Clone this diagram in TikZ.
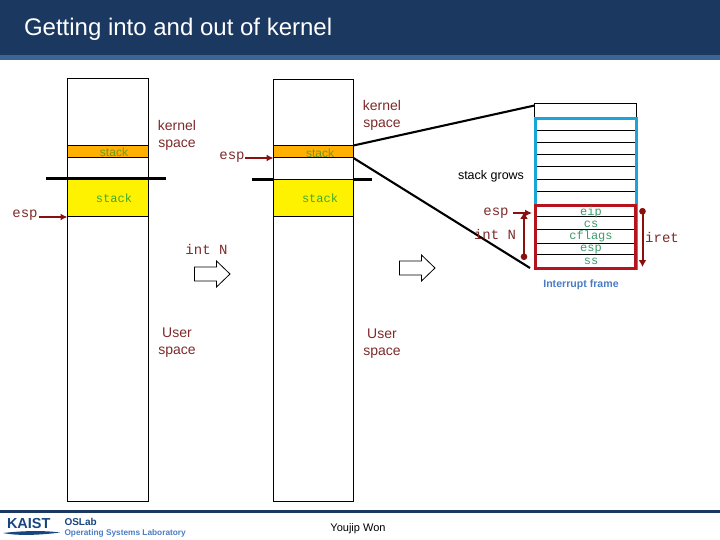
\documentclass[tikz,border=0pt]{standalone}
\usepackage{fontspec}
\setmainfont{Liberation Sans}
\newfontfamily\monof{Liberation Mono}
\usetikzlibrary{arrows.meta}
\definecolor{hdr}{HTML}{1A3860}
\definecolor{hdrb}{HTML}{3E6496}
\definecolor{dred}{HTML}{8A1010}
\definecolor{txtred}{HTML}{7E2A2A}
\definecolor{tgreen}{HTML}{3E9A6A}
\definecolor{sgreen}{HTML}{3FAA30}
\definecolor{ogreen}{HTML}{6E9A20}
\definecolor{orng}{HTML}{FFB000}
\definecolor{cyanb}{HTML}{1AA5D8}
\definecolor{redb}{HTML}{B5141E}
\definecolor{fblue}{HTML}{4A7CC4}
\definecolor{logob}{HTML}{17457F}
\tikzset{
 x=1pt,y=-1pt,
 every node/.style={inner sep=0pt,outer sep=0pt},
 box/.style={draw=black,line width=1pt},
 thin line/.style={draw=black,line width=1pt},
 thick line/.style={draw=black,line width=2.1pt},
 redarrow/.style={draw=dred,line width=2pt,-{Latex[length=7pt,width=7pt]}},
 redboth/.style={draw=dred,line width=2pt,{Latex[length=7pt,width=8pt]}-{Circle[length=6.5pt,width=6.5pt]}},
 sanslab/.style={font=\fontsize{14}{17}\selectfont,text=txtred,align=center},
 monolab/.style={font=\monof\fontsize{14}{16}\selectfont,text=txtred},
 stacktxt/.style={font=\monof\fontsize{12}{14}\selectfont,text=sgreen},
 orangetxt/.style={font=\fontsize{12}{14}\selectfont,text=ogreen},
 frametxt/.style={font=\monof\fontsize{12}{14}\selectfont,text=tgreen},
}
\begin{document}
\begin{tikzpicture}
\useasboundingbox (0,0) rectangle (720,540);
% header
\fill[hdr] (0,0) rectangle (720,55);
\fill[hdrb] (0,55) rectangle (720,60);
\node[anchor=west,text=white,font=\fontsize{24}{28}\selectfont] (title) at (24,29) {Getting into and out of kernel};
% footer
\fill[hdr] (0,510) rectangle (720,513);
\node[anchor=west,text=logob,font=\bfseries\fontsize{14.5}{16}\selectfont] (kaist) at (7,523.5) {KAIST};
\fill[logob] (3,533) .. controls (25,530.5) and (45,530.5) .. (60,532.5) .. controls (45,534.5) and (20,536.5) .. (3,533) -- cycle;
\node[anchor=west,text=logob,font=\bfseries\fontsize{10}{11}\selectfont] (oslab) at (64.5,522) {OSLab};
\node[anchor=west,text=fblue,font=\bfseries\fontsize{8.3}{9}\selectfont] (osl) at (64.5,533) {Operating Systems Laboratory};
\node[font=\fontsize{11}{13}\selectfont] (author) at (358,529) {Youjip Won};
% left column
\fill[orng] (67.5,145.5) rectangle (148,158);
\fill[yellow] (67.5,179) rectangle (148,217);
\draw[box] (67.5,78.5) rectangle (148,501);
\draw[box] (67.5,145.5) -- (148,145.5) (67.5,158) -- (148,158) (67.5,217) -- (148,217);
\draw[thick line] (46,178.5) -- (166,178.5);
\coordinate (lefttop) at (67.5,217);
\node[monolab,anchor=center] (esp1) at (25,215.5) {esp};
\draw[redarrow] (esp1.east) ++(1,1.5) -- (lefttop);
\node[orangetxt] (st1) at (114,152.5) {stack};
\node[stacktxt] (st2) at (114,198) {stack};
\node[sanslab] (ks1) at (177,135) {kernel\\space};
% middle column
\fill[orng] (273.5,145.5) rectangle (353.5,158);
\fill[yellow] (273.5,180) rectangle (353.5,217);
\draw[box] (273.5,79.5) rectangle (353.5,501);
\draw[box] (273.5,145.5) -- (353.5,145.5) (273.5,158) -- (353.5,158) (273.5,180) -- (353.5,180) (273.5,217) -- (353.5,217);
\draw[thick line] (252,179.5) -- (273.5,179.5) (353.5,179.5) -- (372,179.5);
\coordinate (midesp) at (273.5,158);
\node[monolab] (esp2) at (232,157.5) {esp};
\draw[redarrow] (esp2.east) ++(0,0.5) -- (midesp);
\node[orangetxt] (st3) at (320,153.5) {stack};
\node[stacktxt] (st4) at (320,198) {stack};
\node[sanslab] (ks2) at (382,115.5) {kernel\\space};
% zoom lines
\coordinate (zt0) at (353.5,145.5); \coordinate (zt1) at (534.5,105.5);
\coordinate (zb0) at (353.5,158); \coordinate (zb1) at (530,268);
\draw[thick line] (zt0) -- (zt1);
\draw[thick line] (zb0) -- (zb1);
% stack detail
\draw[box] (534.5,103.5) rectangle (636,119);
\foreach \y in {131,143,155,167,180,192,217,230,243,254}
  \draw[thin line] (534.5,\y) -- (635,\y);
\draw[draw=cyanb,line width=3pt] (535,119) rectangle (636,268);
\draw[draw=redb,line width=3pt] (535.5,205.5) rectangle (635,268);
\node[frametxt] (f1) at (591,212) {eip};
\node[frametxt] (f2) at (591,224.5) {cs};
\node[frametxt] (f3) at (591,236.5) {cflags};
\node[frametxt] (f4) at (591,249.5) {esp};
\node[frametxt] (f5) at (591,261) {ss};
\node[font=\fontsize{12.5}{14}\selectfont,text=black] (grows) at (491,176) {stack grows};
\node[font=\bfseries\fontsize{10.6}{12}\selectfont,text=fblue] (ifr) at (581,285) {Interrupt frame};
\node[monolab] (esp3) at (496,213.5) {esp};
\coordinate (espT) at (532,213);
\draw[redarrow] (513,213) -- (espT);
\node[monolab] (int2) at (495,234) {int N};
\coordinate (iT) at (524,212); \coordinate (iB) at (524,260);
\draw[redboth] (iT) -- (iB);
\coordinate (rT) at (642.5,208); \coordinate (rB) at (642.5,267);
\draw[draw=dred,line width=2pt,{Circle[length=6.5pt,width=6.5pt]}-{Latex[length=7pt,width=8pt]}] (rT) -- (rB);
\node[monolab] (iret) at (662,237) {iret};
% int N and block arrows
\node[monolab] (int1) at (206.5,249) {int N};
\draw[box,fill=white,line width=0.8pt] (194.5,267) -- (216.5,267) -- (216.5,261) -- (230,274) -- (216.5,287) -- (216.5,281) -- (194.5,281) -- cycle;
\draw[box,fill=white,line width=0.8pt] (399.5,261) -- (421.5,261) -- (421.5,255) -- (435,268) -- (421.5,281) -- (421.5,275) -- (399.5,275) -- cycle;
% user space
\node[sanslab] (us1) at (177,343) {User\\space};
\node[sanslab] (us2) at (382,344) {User\\space};
\end{tikzpicture}
\end{document}
